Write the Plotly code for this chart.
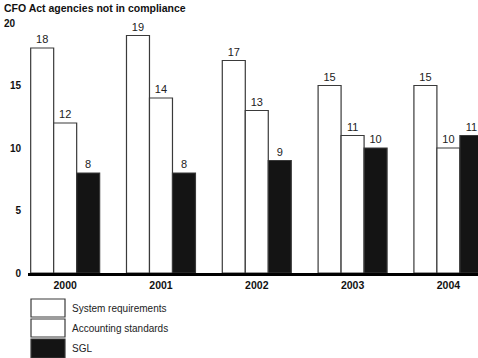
import plotly.graph_objects as go

years = [2000, 2001, 2002, 2003, 2004]
year_labels = ["2000", "2001", "2002", "2003", "2004"]
system_req = [18, 19, 17, 15, 15]
accounting = [12, 14, 13, 11, 10]
sgl = [8, 8, 9, 10, 11]
y_ticks = [0, 5, 10, 15, 20]
y_tick_labels = ["0", "5", "10", "15", "20"]
series_names = ["System requirements", "Accounting standards", "SGL"]

FONT = "Liberation Sans, Arial, sans-serif"
L, T, B = 28, 23, 273
W, H = 478, 358
PH = B - T
PW = W - L

def px_x(px):
    return (px - L) / PW

def px_y(py):
    return (B - py) / PH

fig = go.Figure()
fills = ["white", "white", "#141414"]
for name, vals, fill in zip(series_names, [system_req, accounting, sgl], fills):
    fig.add_trace(go.Bar(
        x=years, y=vals, name=name,
        marker=dict(color=fill, line=dict(color="#3a3a3a", width=1.2)),
        text=[str(v) for v in vals], textposition="outside",
        textfont=dict(family=FONT, size=11, color="#222"),
        cliponaxis=False, showlegend=False,
    ))

fig.update_layout(
    width=W, height=H,
    margin=dict(l=L, r=0, t=T, b=H - B),
    paper_bgcolor="white", plot_bgcolor="white",
    barmode="group", bargap=0.28, bargroupgap=0,
    font=dict(family=FONT, color="#111"),
    xaxis=dict(
        range=[years[0] - 0.388, years[0] + 4.309],
        tickvals=years, ticktext=[f"<b>{t}</b>" for t in year_labels],
        tickfont=dict(family=FONT, size=10.5, color="#111"),
        showline=True, linecolor="#000", linewidth=3,
        showgrid=False, zeroline=False, ticks="",
    ),
    yaxis=dict(
        range=[0, 20],
        tickvals=y_ticks[:-1], ticktext=[f"<b>{t}</b>" for t in y_tick_labels[:-1]],
        tickfont=dict(family=FONT, size=10, color="#111"),
        showgrid=False, zeroline=False, showline=False, ticks="",
        ticklabelstandoff=6,
    ),
)

# "20" top label and title
fig.add_annotation(xref="paper", yref="y", x=px_x(2), y=y_ticks[-1],
                   text=f"<b>{y_tick_labels[-1]}</b>", showarrow=False,
                   xanchor="left", yanchor="middle",
                   font=dict(family=FONT, size=10, color="#111"))
fig.add_annotation(xref="paper", yref="paper", x=px_x(2), y=px_y(8),
                   text="<b>CFO Act agencies not in compliance</b>", showarrow=False,
                   xanchor="left", yanchor="middle",
                   font=dict(family=FONT, size=10.5, color="#111"))

# legend
boxes = [(299, 317), (319, 337), (339, 358)]
for (y0, y1), name, fill in zip(boxes, series_names, fills):
    fig.add_shape(type="rect", xref="paper", yref="paper",
                  x0=px_x(31), x1=px_x(65), y0=px_y(y1), y1=px_y(y0),
                  fillcolor=fill, line=dict(color="#3a3a3a", width=1.2))
    fig.add_annotation(xref="paper", yref="paper", x=px_x(70), y=px_y((y0 + y1) / 2),
                       text=name, showarrow=False, xanchor="left", yanchor="middle",
                       font=dict(family=FONT, size=10, color="#222"))

fig.write_html("out.html")
